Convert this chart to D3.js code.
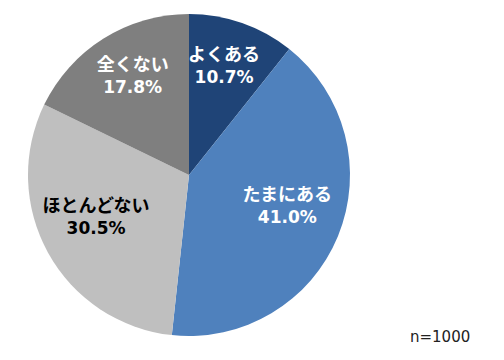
<!DOCTYPE html>
<html>
<head>
<meta charset="utf-8">
<script src="https://cdn.jsdelivr.net/npm/d3@7"></script>
<style>
body { margin:0; background:#fff; }
svg text { font-family:"Noto Sans CJK JP", "Noto Sans", sans-serif; }
</style>
</head>
<body>
<svg id="chart" width="504" height="360"></svg>
<script>
var labels = ["よくある", "たまにある", "ほとんどない", "全くない"];
var values = [10.7, 41.0, 30.5, 17.8];
var colors = ["#1F4477", "#4F81BD", "#BFBFBF", "#7F7F7F"];
var textColors = ["#fff", "#fff", "#000", "#fff"];
var note = "n=1000";

var svg = d3.select("#chart");
var cx = 189, cy = 175, r = 161;

var pie = d3.pie().sort(null).value(function (d) { return d; });
var arcs = pie(values);
var arc = d3.arc().innerRadius(0).outerRadius(r);
var labelArc = d3.arc().innerRadius(r * 0.66).outerRadius(r * 0.66);

var g = svg.append("g").attr("transform", "translate(" + cx + "," + cy + ")");

g.selectAll("path.slice")
    .data(arcs)
    .enter()
    .append("path")
    .attr("class", "slice")
    .attr("d", arc)
    .attr("fill", function (d, i) { return colors[i]; });

var lab = g.selectAll("g.lab")
    .data(arcs)
    .enter()
    .append("g")
    .attr("class", "lab")
    .attr("transform", function (d) {
        var c = labelArc.centroid(d);
        return "translate(" + c[0] + "," + c[1] + ")";
    });

// category name
lab.append("text")
    .attr("text-anchor", "middle")
    .attr("y", -14)
    .attr("font-size", 18)
    .attr("font-weight", "bold")
    .attr("fill", function (d, i) { return textColors[i]; })
    .text(function (d, i) { return labels[i]; });

// percent
lab.append("text")
    .attr("text-anchor", "middle")
    .attr("y", 8)
    .attr("font-size", 17)
    .attr("font-weight", "bold")
    .style("font-family", "'DejaVu Sans', Verdana, sans-serif")
    .attr("fill", function (d, i) { return textColors[i]; })
    .text(function (d) { return d.value.toFixed(1) + "%"; });

svg.append("text")
    .attr("x", 410)
    .attr("y", 342)
    .attr("font-size", 15)
    .style("font-family", "'DejaVu Sans', Verdana, sans-serif")
    .attr("fill", "#222")
    .text(note);
</script>
</body>
</html>
